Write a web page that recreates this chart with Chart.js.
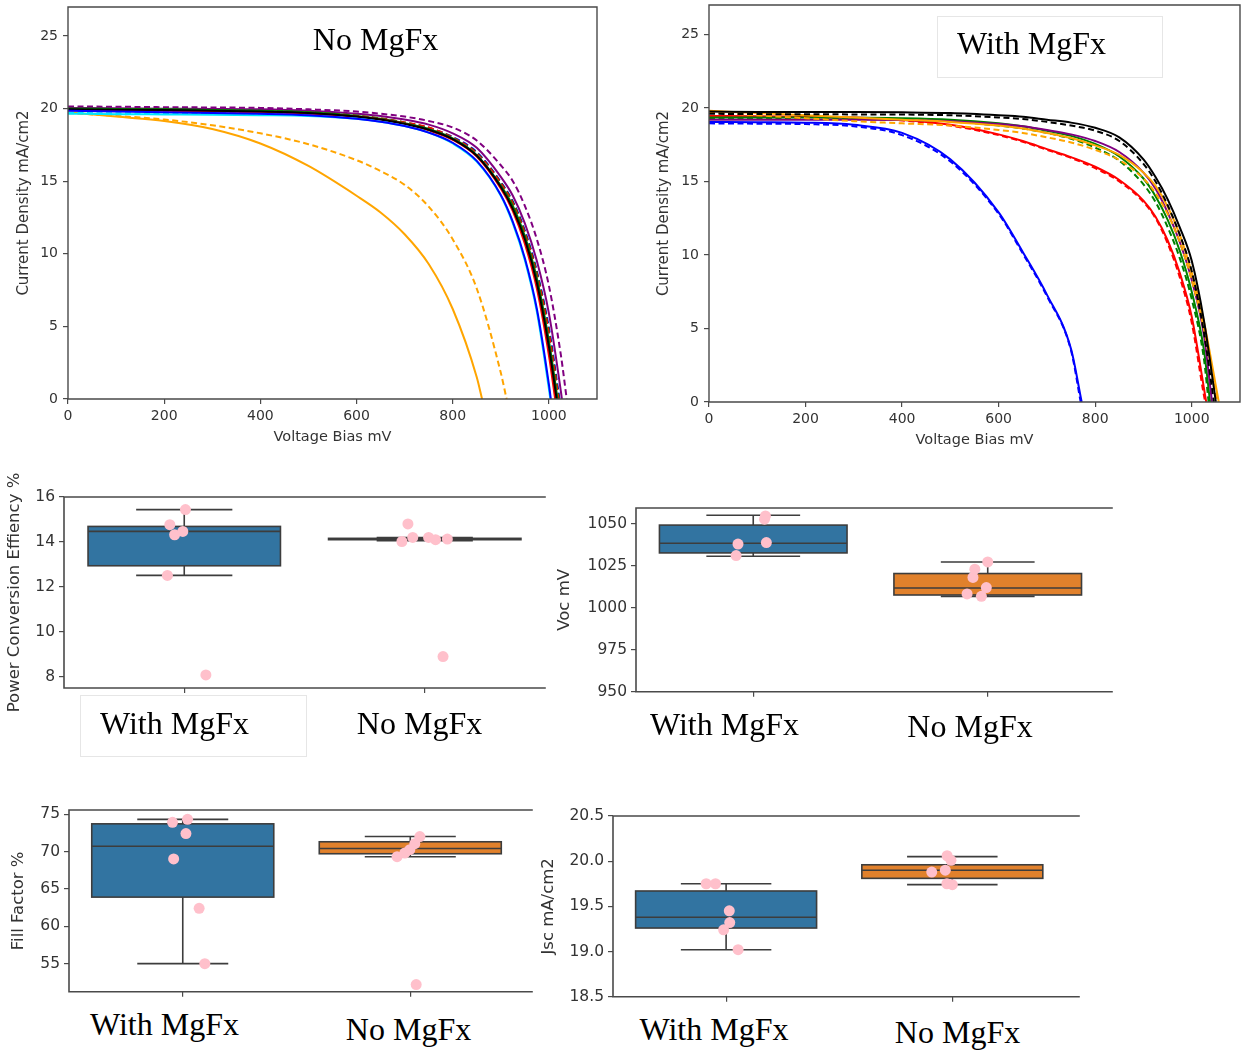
<!DOCTYPE html>
<html>
<head>
<meta charset="utf-8">
<script src="https://cdn.jsdelivr.net/npm/chart.js@4.4.1/dist/chart.umd.min.js"></script>
<style>
  body { margin: 0; background: #fff; width: 1241px; height: 1051px; position: relative; overflow: hidden; }
  canvas { position: absolute; }
  .lbl { position: absolute; font-family: "Liberation Serif", "Times New Roman", serif; font-size: 32px;
         line-height: 32px; color: #000; white-space: nowrap; transform: translateX(-50%); }
  .frame { position: absolute; border: 1px solid #e6e6e6; box-sizing: border-box; }
</style>
</head>
<body>
<div class="frame" style="left:937px;top:16px;width:226px;height:62px"></div>
<div class="frame" style="left:80px;top:695px;width:227px;height:62px"></div>
<canvas id="jvNo"></canvas>
<canvas id="jvWith"></canvas>
<canvas id="pce"></canvas>
<canvas id="voc"></canvas>
<canvas id="ff"></canvas>
<canvas id="jsc"></canvas>
<script>
// ---- J-V scans: current density (mA/cm2) sampled on a shared voltage grid (mV), last point at Voc ----
const jvVoltage = [0, 100, 200, 300, 400, 500, 600, 650, 700, 750, 800, 850, 900, 925, 950, 975, 1000, 1025];
const jvTicksX = [0, 200, 400, 600, 800, 1000];
const jvTicksY = [0, 5, 10, 15, 20, 25];

// No MgFx devices
const noMgfxJ = [
  [19.85, 19.8, 19.75, 19.7, 19.65, 19.55, 19.3, 19.1, 18.8, 18.35, 17.65, 16.4, 14.05, 12.2, 9.7, 6.2, 1.0],
  [19.65, 19.62, 19.6, 19.58, 19.55, 19.5, 19.3, 19.1, 18.8, 18.35, 17.6, 16.35, 14.0, 12.1, 9.55, 6.0, 0.7],
  [19.95, 19.93, 19.9, 19.85, 19.8, 19.7, 19.45, 19.25, 18.95, 18.55, 17.9, 16.75, 14.6, 13.1, 11.0, 8.0, 3.6],
  [19.9, 19.88, 19.85, 19.8, 19.75, 19.65, 19.45, 19.25, 18.95, 18.5, 17.85, 16.7, 14.5, 12.95, 10.7, 7.6, 3.0],
  [20.0, 19.98, 19.95, 19.9, 19.85, 19.75, 19.5, 19.3, 19.0, 18.6, 17.95, 16.8, 14.7, 13.3, 11.2, 8.3, 4.0],
  [19.7, 19.68, 19.66, 19.63, 19.6, 19.55, 19.4, 19.22, 18.95, 18.55, 17.9, 16.8, 14.65, 13.2, 11.1, 8.15, 3.8],
  [19.95, 19.93, 19.9, 19.85, 19.8, 19.72, 19.5, 19.32, 19.05, 18.7, 18.0, 16.9, 14.85, 13.45, 11.4, 8.55, 4.5],
  [20.0, 19.98, 19.95, 19.9, 19.85, 19.75, 19.52, 19.33, 19.05, 18.68, 18.0, 16.95, 14.9, 13.55, 11.5, 8.7, 4.7],
  [19.9, 19.88, 19.85, 19.8, 19.75, 19.68, 19.48, 19.3, 19.02, 18.65, 18.05, 17.0, 14.95, 13.6, 11.6, 8.8, 4.9],
  [20.05, 20.03, 20.0, 19.98, 19.95, 19.85, 19.65, 19.5, 19.25, 18.9, 18.3, 17.3, 15.3, 14.0, 12.1, 9.5, 5.9, 0.5],
  [20.15, 20.13, 20.1, 20.08, 20.05, 19.95, 19.8, 19.65, 19.45, 19.15, 18.7, 17.8, 16.1, 15.0, 13.3, 11.0, 7.8, 3.0],
  [19.75, 19.45, 19.15, 18.6, 17.6, 16.05, 14.0, 12.85, 11.35, 9.3, 6.2, 1.5],
  [19.7, 19.5, 19.25, 18.85, 18.3, 17.55, 16.45, 15.7, 14.75, 13.25, 11.0, 7.6, 1.8]
];
const noMgfxVoc = [1004, 1003, 1016, 1013, 1018, 1017, 1020, 1021, 1022, 1027, 1037, 861, 912];
const noMgfxColor = ['blue', '#00e5ff', 'black', 'red', 'green', '#00e5ff', 'red', 'green', 'blue', 'purple', 'purple', 'orange', 'orange'];
const noMgfxDashed = [false, false, false, false, false, true, true, true, true, false, true, false, true];

// With MgFx devices
const withMgfxJ = [
  [19.75, 19.73, 19.72, 19.72, 19.7, 19.65, 19.5, 19.4, 19.2, 19.0, 18.65, 18.0, 16.5, 15.3, 13.8, 11.9, 9.6, 5.6],
  [19.6, 19.58, 19.57, 19.56, 19.55, 19.5, 19.35, 19.25, 19.05, 18.8, 18.45, 17.75, 16.2, 15.0, 13.4, 11.4, 8.9, 4.8],
  [19.8, 19.65, 19.5, 19.35, 19.2, 19.05, 18.8, 18.6, 18.3, 17.95, 17.45, 16.8, 15.6, 14.7, 13.3, 11.4, 8.8, 5.5],
  [19.7, 19.5, 19.3, 19.1, 18.95, 18.8, 18.5, 18.3, 18.0, 17.65, 17.15, 16.45, 15.2, 14.2, 12.8, 10.9, 8.3, 5.0],
  [19.2, 19.2, 19.2, 19.2, 19.18, 19.1, 18.9, 18.75, 18.5, 18.2, 17.75, 17.0, 15.6, 14.5, 12.9, 10.9, 8.3, 4.6],
  [19.35, 19.35, 19.35, 19.33, 19.3, 19.2, 18.95, 18.75, 18.45, 18.1, 17.55, 16.7, 15.2, 14.0, 12.4, 10.3, 7.5, 3.6],
  [19.3, 19.3, 19.28, 19.25, 19.2, 19.08, 18.8, 18.6, 18.3, 17.9, 17.3, 16.4, 14.8, 13.6, 11.9, 9.8, 7.0, 3.0],
  [19.45, 19.43, 19.4, 19.35, 19.2, 18.85, 18.2, 17.75, 17.2, 16.65, 16.0, 15.1, 13.7, 12.6, 11.0, 8.8, 5.8, 1.0],
  [19.4, 19.38, 19.35, 19.3, 19.15, 18.8, 18.15, 17.7, 17.15, 16.6, 15.9, 15.0, 13.6, 12.5, 10.8, 8.5, 5.4, 0.5],
  [19.05, 19.03, 19.0, 18.85, 18.3, 16.5, 12.9, 10.2, 7.3, 3.6],
  [18.95, 18.93, 18.9, 18.75, 18.15, 16.35, 12.8, 10.1, 7.2, 3.5]
];
const withMgfxVoc = [1050, 1046, 1056, 1053, 1042, 1038, 1035, 1030, 1028, 772, 770];
const withMgfxColor = ['black', 'black', 'orange', 'orange', 'purple', 'green', 'green', 'red', 'red', 'blue', 'blue'];
const withMgfxDashed = [false, true, false, true, false, false, true, false, true, false, true];

// ---- Device statistics ----
const categories = ['With MgFx', 'No MgFx'];

// box stats: [whisker low, Q1, median, Q3, whisker high]
const pceBox = [[12.51, 12.94, 14.47, 14.69, 15.44], [14.05, 14.1, 14.13, 14.16, 14.2]];
const pceWith = [15.44, 14.77, 14.32, 14.47, 12.51, 8.08];
const pceNo = [14.8, 14.02, 14.2, 14.2, 14.1, 14.13, 8.9];
const pceWithJitter = [0.005, -0.06, -0.04, -0.006, -0.07, 0.09];
const pceNoJitter = [-0.07, -0.095, -0.05, 0.016, 0.045, 0.094, 0.076];
const pceTicks = [8, 10, 12, 14, 16];

const vocBox = [[1030.8, 1032.8, 1038.6, 1049.4, 1055.3], [1006.9, 1007.7, 1011.9, 1020.5, 1027.4]];
const vocWith = [1054.9, 1052.9, 1038.1, 1039.0, 1031.2];
const vocNo = [1027.4, 1023.1, 1018.2, 1012.1, 1008.3, 1006.9];
const vocWithJitter = [0.052, 0.048, -0.065, 0.056, -0.073];
const vocNoJitter = [0.0, -0.055, -0.063, -0.006, -0.088, -0.027];
const vocTicks = [950, 975, 1000, 1025, 1050];

const ffBox = [[55.0, 63.9, 70.7, 73.7, 74.3], [69.3, 69.7, 70.4, 71.3, 72.0]];
const ffWith = [73.9, 74.3, 72.4, 69.0, 62.4, 55.0];
const ffNo = [72.0, 71.05, 70.25, 69.8, 69.3, 52.2];
const ffWithJitter = [-0.045, 0.021, 0.014, -0.04, 0.072, 0.097];
const ffNoJitter = [0.042, 0.02, -0.002, -0.024, -0.058, 0.026];
const ffTicks = [55, 60, 65, 70, 75];

const jscBox = [[19.02, 19.26, 19.38, 19.67, 19.75], [19.74, 19.81, 19.9, 19.96, 20.05]];
const jscWith = [19.75, 19.75, 19.45, 19.32, 19.24, 19.02];
const jscNo = [20.06, 20.01, 19.9, 19.88, 19.75, 19.74];
const jscWithJitter = [-0.088, -0.047, 0.014, 0.016, -0.011, 0.053];
const jscNoJitter = [-0.023, -0.006, -0.031, -0.091, -0.024, 0.0];
const jscTicks = [18.5, 19.0, 19.5, 20.0, 20.5];

// ---- styling ----
Chart.defaults.font.family = '"DejaVu Sans", sans-serif';
Chart.defaults.color = '#333';
const axisColor = '#4a4a4a';
const boxFill = ['#3274a1', '#e1812c'];
const boxEdge = '#3d3d3d';
const tickGrid = { drawOnChartArea: false, drawTicks: true, tickLength: 5, color: axisColor, lineWidth: 1.2 };

// matplotlib-like frame lines around the plot area
const spines = {
  id: 'spines',
  afterDraw(chart, args, opts) {
    const { ctx, chartArea: a } = chart;
    const sides = opts.sides || [];
    ctx.save();
    ctx.strokeStyle = opts.color;
    ctx.lineWidth = opts.width;
    ctx.lineCap = 'square';
    ctx.beginPath();
    if (sides.includes('left')) { ctx.moveTo(a.left, a.top); ctx.lineTo(a.left, a.bottom); }
    if (sides.includes('right')) { ctx.moveTo(a.right, a.top); ctx.lineTo(a.right, a.bottom); }
    if (sides.includes('top')) { ctx.moveTo(a.left, a.top); ctx.lineTo(a.right, a.top); }
    if (sides.includes('bottom')) { ctx.moveTo(a.left, a.bottom); ctx.lineTo(a.right, a.bottom); }
    ctx.stroke();
    ctx.restore();
  }
};

// seaborn-style boxes with whiskers, drawn under the strip points
const boxes = {
  id: 'boxes',
  beforeDatasetsDraw(chart, args, opts) {
    if (!opts.stats) return;
    const { ctx, scales: { x, y } } = chart;
    ctx.save();
    ctx.lineWidth = 1.6;
    ctx.strokeStyle = opts.edge;
    opts.stats.forEach((s, i) => {
      const [lo, q1, med, q3, hi] = s.map(v => y.getPixelForValue(v));
      const cx = x.getPixelForValue(i);
      const bl = x.getPixelForValue(i - 0.4), br = x.getPixelForValue(i + 0.4);
      const cl = x.getPixelForValue(i - 0.2), cr = x.getPixelForValue(i + 0.2);
      ctx.beginPath();
      ctx.moveTo(cx, hi); ctx.lineTo(cx, q3);
      ctx.moveTo(cx, q1); ctx.lineTo(cx, lo);
      ctx.moveTo(cl, hi); ctx.lineTo(cr, hi);
      ctx.moveTo(cl, lo); ctx.lineTo(cr, lo);
      ctx.stroke();
      ctx.fillStyle = opts.fill[i];
      ctx.fillRect(bl, q3, br - bl, q1 - q3);
      ctx.strokeRect(bl, q3, br - bl, q1 - q3);
      ctx.beginPath();
      ctx.moveTo(bl, med); ctx.lineTo(br, med);
      ctx.stroke();
    });
    ctx.restore();
  }
};

// size a canvas and work out paddings so the plot area lands where it should on the page
function layoutFor(id, box, area) {
  const el = document.getElementById(id);
  el.width = box.w; el.height = box.h;
  el.style.left = box.x + 'px'; el.style.top = box.y + 'px';
  el.style.width = box.w + 'px'; el.style.height = box.h + 'px';
  return {
    el,
    top: area.top - box.y,
    right: box.x + box.w - area.right,
    yWidth: area.left - box.x,
    xHeight: box.y + box.h - area.bottom
  };
}

function addLabel(text, cx, baseline) {
  const d = document.createElement('div');
  d.className = 'lbl';
  d.textContent = text;
  d.style.left = cx + 'px';
  d.style.top = (baseline - 26.8) + 'px';
  document.body.appendChild(d);
}

function jvChart(id, box, area, rows, vocs, colors, dashed, titlePad) {
  const L = layoutFor(id, box, area);
  const datasets = rows.map((row, i) => ({
    data: row.map((j, k) => ({ x: jvVoltage[k], y: j })).concat([{ x: vocs[i], y: 0 }]),
    borderColor: colors[i],
    borderWidth: 2,
    borderDash: dashed[i] ? [6, 3.5] : [],
    pointRadius: 0,
    cubicInterpolationMode: 'monotone',
    fill: false
  }));
  new Chart(L.el, {
    type: 'line',
    data: { datasets },
    plugins: [spines],
    options: {
      responsive: false,
      animation: false,
      events: [],
      layout: { padding: { top: L.top, right: L.right, left: 0, bottom: 0 } },
      plugins: {
        legend: { display: false },
        tooltip: { enabled: false },
        spines: { sides: ['left', 'right', 'top', 'bottom'], color: axisColor, width: 1.4 }
      },
      scales: {
        x: {
          type: 'linear', min: 0, max: 1100,
          afterBuildTicks: s => { s.ticks = jvTicksX.map(v => ({ value: v })); },
          afterFit: s => { s.height = L.xHeight; },
          ticks: { font: { size: 14 }, padding: 4, maxRotation: 0, autoSkip: false, callback: v => String(v) },
          grid: tickGrid,
          border: { display: false },
          title: { display: true, text: 'Voltage Bias mV', font: { size: 14.5 }, padding: { top: 0, bottom: titlePad.x } }
        },
        y: {
          type: 'linear', min: 0, max: 27,
          afterBuildTicks: s => { s.ticks = jvTicksY.map(v => ({ value: v })); },
          afterFit: s => { s.width = L.yWidth; },
          ticks: { font: { size: 14 }, padding: 5, callback: v => String(v) },
          grid: tickGrid,
          border: { display: false },
          title: { display: true, text: 'Current Density mA/cm2', font: { size: 15 }, padding: { top: titlePad.y, bottom: 0 } }
        }
      }
    }
  });
}

function boxChart(id, box, area, opt) {
  const L = layoutFor(id, box, area);
  const datasets = opt.points.map((vals, i) => ({
    type: 'scatter',
    data: vals.map((v, k) => ({ x: i + opt.jitter[i][k], y: v })),
    backgroundColor: 'pink',
    borderWidth: 0,
    pointRadius: 5.5,
    pointHoverRadius: 5.5
  }));
  new Chart(L.el, {
    type: 'scatter',
    data: { datasets },
    plugins: [spines, boxes],
    options: {
      responsive: false,
      animation: false,
      events: [],
      layout: { padding: { top: L.top, right: L.right, left: 0, bottom: 0 } },
      plugins: {
        legend: { display: false },
        tooltip: { enabled: false },
        spines: { sides: ['left', 'top', 'bottom'], color: axisColor, width: 1.6 },
        boxes: { stats: opt.stats, fill: boxFill, edge: boxEdge }
      },
      scales: {
        x: {
          type: 'linear', min: -0.5, max: opt.xMax,
          afterBuildTicks: s => { s.ticks = categories.map((c, i) => ({ value: i })); },
          afterFit: s => { s.height = L.xHeight; },
          ticks: { display: false },
          grid: tickGrid,
          border: { display: false }
        },
        y: {
          type: 'linear', min: opt.yMin, max: opt.yMax,
          afterBuildTicks: s => { s.ticks = opt.ticks.map(v => ({ value: v })); },
          afterFit: s => { s.width = L.yWidth; },
          ticks: { font: { size: 15.5 }, padding: 4, callback: opt.format || (v => String(v)) },
          grid: tickGrid,
          border: { display: false },
          title: { display: true, text: opt.title, font: { size: 16.5 }, padding: { top: opt.titlePad, bottom: 0 } }
        }
      }
    }
  });
  categories.forEach((c, i) => addLabel(c, opt.labelX[i], opt.labelBase[i]));
}

// ---- J-V panels ----
jvChart('jvNo', { x: 0, y: -10, w: 612, h: 460 }, { left: 68, top: 7, right: 597, bottom: 399 },
  noMgfxJ, noMgfxVoc, noMgfxColor, noMgfxDashed, { x: 4, y: 15 });
jvChart('jvWith', { x: 640, y: -10, w: 601, h: 465 }, { left: 709, top: 5, right: 1240, bottom: 402 },
  withMgfxJ, withMgfxVoc, withMgfxColor, withMgfxDashed, { x: 6, y: 15 });
addLabel('No MgFx', 375.5, 50);
addLabel('With MgFx', 1031.5, 54);

// ---- box panels ----
boxChart('pce', { x: 0, y: 460, w: 560, h: 265 }, { left: 64, top: 497, right: 545, bottom: 688 }, {
  points: [pceWith, pceNo], jitter: [pceWithJitter, pceNoJitter], stats: pceBox,
  yMin: 7.5, yMax: 16, ticks: pceTicks, xMax: 1.5, title: 'Power Conversion Effiency %', titlePad: 5.1,
  labelX: [174.5, 419.5], labelBase: [734, 734]
});
boxChart('voc', { x: 550, y: 480, w: 580, h: 225 }, { left: 636, top: 508, right: 1112, bottom: 694 }, {
  points: [vocWith, vocNo], jitter: [vocWithJitter, vocNoJitter], stats: vocBox,
  yMin: 950, yMax: 1059.6, ticks: vocTicks, xMax: 1.53, title: 'Voc mV', titlePad: 5.1,
  labelX: [724.5, 970], labelBase: [735, 737]
});
boxChart('ff', { x: 0, y: 790, w: 545, h: 215 }, { left: 69, top: 810, right: 532, bottom: 992 }, {
  points: [ffWith, ffNo], jitter: [ffWithJitter, ffNoJitter], stats: ffBox,
  yMin: 51.25, yMax: 75.55, ticks: ffTicks, xMax: 1.535, title: 'Fill Factor %', titlePad: 9.1,
  labelX: [164.5, 408.5], labelBase: [1035, 1040]
});
boxChart('jsc', { x: 535, y: 795, w: 555, h: 215 }, { left: 613, top: 816, right: 1079, bottom: 997 }, {
  points: [jscWith, jscNo], jitter: [jscWithJitter, jscNoJitter], stats: jscBox,
  yMin: 18.5, yMax: 20.5, ticks: jscTicks, xMax: 1.56, title: 'Jsc mA/cm2', titlePad: 4.1,
  format: v => v.toFixed(1),
  labelX: [714, 957.5], labelBase: [1040, 1043]
});
</script>
</body>
</html>
